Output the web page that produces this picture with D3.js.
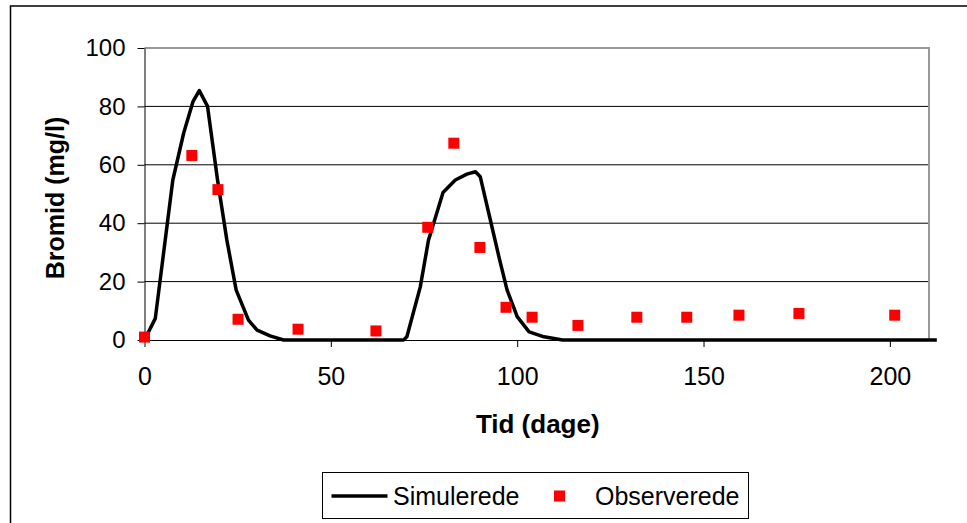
<!DOCTYPE html>
<html>
<head>
<meta charset="utf-8">
<script src="https://cdn.jsdelivr.net/npm/d3@7"></script>
<style>
  html, body { margin: 0; padding: 0; background: #fff; }
  svg { display: block; font-family: "Liberation Sans", Arial, sans-serif; }
</style>
</head>
<body>
<svg id="chart" width="967" height="523"></svg>
<script>
// Simulated bromide concentration (line)
const simDays   = [0, 2.9, 7.6, 10.5, 13.0, 14.7, 16.9, 19.6, 22.1, 24.6, 27.9, 30.2, 33.7, 37.3,
                   69.5, 70.4, 74.0, 76.2, 78.0, 80.1, 83.4, 86.5, 88.8, 90.1, 92.8, 95.1, 97.3,
                   100.0, 103.2, 107.2, 112.2, 212.6];
const simValues = [0, 7.4, 54.8, 70.8, 81.6, 85.4, 80.1, 54.8, 34.2, 17.1, 6.8, 3.4, 1.4, 0,
                   0, 1.1, 18.2, 34.2, 41.7, 50.5, 54.8, 56.8, 57.6, 55.9, 41.1, 28.5, 17.1,
                   8.0, 2.8, 1.1, 0, 0];

// Observed bromide concentration (markers)
const obsDays   = [0, 12.7, 19.7, 25.1, 41.2, 62.1, 76.0, 83.0, 90.0, 97.0, 104.0, 116.3,
                   132.1, 145.5, 159.5, 175.6, 201.3];
const obsValues = [1.0, 63.2, 51.5, 7.1, 3.7, 3.1, 38.6, 67.4, 31.7, 11.2, 7.8, 5.0,
                   7.8, 7.8, 8.5, 9.1, 8.5];

const xTicks = [0, 50, 100, 150, 200];
const yTicks = [0, 20, 40, 60, 80, 100];
const xMax = 210.5;
const yMax = 100;

const svg = d3.select("#chart");

// Outer chart frame (runs off the right and bottom edges)
svg.append("rect")
  .attr("x", 10.5).attr("y", 6)
  .attr("width", 1000).attr("height", 600)
  .attr("fill", "#fff").attr("stroke", "#000").attr("stroke-width", 1.5);

const plot = { left: 144.5, top: 48, right: 929, bottom: 340 };

const x = d3.scaleLinear().domain([0, xMax]).range([plot.left, plot.right]);
const y = d3.scaleLinear().domain([0, yMax]).range([plot.bottom, plot.top]);

// Horizontal gridlines
svg.append("g")
  .selectAll("line")
  .data(yTicks.filter(t => t > 0 && t < yMax))
  .join("line")
  .attr("x1", plot.left).attr("x2", plot.right)
  .attr("y1", d => y(d)).attr("y2", d => y(d))
  .attr("stroke", "#000").attr("stroke-width", 1);

// Plot area border (top and right)
svg.append("path")
  .attr("d", `M${plot.left},${plot.top}H${plot.right}V${plot.bottom}`)
  .attr("fill", "none").attr("stroke", "#999").attr("stroke-width", 2);

// Y axis
const yAxis = svg.append("g")
  .attr("transform", `translate(${plot.left},0)`)
  .call(d3.axisLeft(y).tickValues(yTicks).tickSizeInner(7).tickSizeOuter(0)
    .tickPadding(12).tickFormat(d3.format("d")));
yAxis.select(".domain").attr("stroke", "#000").attr("stroke-width", 1);
yAxis.selectAll(".tick line").attr("stroke", "#000");
yAxis.selectAll(".tick text")
  .attr("font-size", 24).attr("fill", "#000")
  .attr("font-family", "'Liberation Sans', Arial, sans-serif");

// X axis
const xAxis = svg.append("g")
  .attr("transform", `translate(0,${plot.bottom})`)
  .call(d3.axisBottom(x).tickValues(xTicks).tickSizeInner(7).tickSizeOuter(0)
    .tickPadding(20).tickFormat(d3.format("d")));
xAxis.select(".domain").attr("stroke", "#000").attr("stroke-width", 1);
xAxis.selectAll(".tick line").attr("stroke", "#000");
xAxis.selectAll(".tick text")
  .attr("font-size", 25).attr("fill", "#000")
  .attr("font-family", "'Liberation Sans', Arial, sans-serif");

// Simulated series
const line = d3.line().x((d, i) => x(simDays[i])).y(d => y(d));
svg.append("path")
  .datum(simValues)
  .attr("d", line)
  .attr("fill", "none")
  .attr("stroke", "#000")
  .attr("stroke-width", 3.5)
  .attr("stroke-linejoin", "round");

// Observed series
const ms = 11;
svg.append("g")
  .selectAll("rect")
  .data(obsValues)
  .join("rect")
  .attr("x", (d, i) => x(obsDays[i]) - ms / 2)
  .attr("y", d => y(d) - ms / 2)
  .attr("width", ms).attr("height", ms)
  .attr("fill", "#ff0000");

// Axis titles
svg.append("text")
  .attr("transform", `translate(64,${(plot.top + plot.bottom) / 2 + 4}) rotate(-90)`)
  .attr("text-anchor", "middle")
  .attr("font-size", 25).attr("font-weight", "bold")
  .text("Bromid (mg/l)");

svg.append("text")
  .attr("x", (plot.left + plot.right) / 2 + 1)
  .attr("y", 433)
  .attr("text-anchor", "middle")
  .attr("font-size", 26).attr("font-weight", "bold")
  .text("Tid (dage)");

// Legend
const legend = svg.append("g");
legend.append("rect")
  .attr("x", 322.5).attr("y", 472.5)
  .attr("width", 426).attr("height", 46)
  .attr("fill", "#fff").attr("stroke", "#000").attr("stroke-width", 1);
legend.append("line")
  .attr("x1", 331.5).attr("x2", 387.5)
  .attr("y1", 496).attr("y2", 496)
  .attr("stroke", "#000").attr("stroke-width", 3.5);
legend.append("text")
  .attr("x", 393).attr("y", 505)
  .attr("font-size", 25)
  .text("Simulerede");
legend.append("rect")
  .attr("x", 559.5 - ms / 2).attr("y", 496 - ms / 2)
  .attr("width", ms).attr("height", ms)
  .attr("fill", "#ff0000");
legend.append("text")
  .attr("x", 595).attr("y", 505)
  .attr("font-size", 25)
  .text("Observerede");
</script>
</body>
</html>
